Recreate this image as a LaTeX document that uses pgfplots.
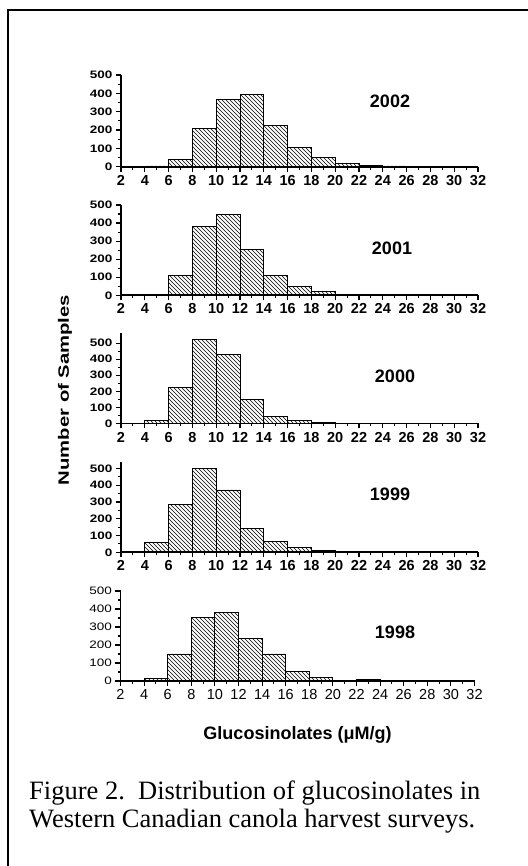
\documentclass[border=0pt]{standalone}
\usepackage{pgfplots}
\pgfplotsset{compat=1.18}
\usepackage{pgfplotstable}
\usetikzlibrary{patterns}
\usepackage{fontspec}
\setmainfont{Liberation Sans}
\newfontfamily\capfont{Liberation Serif}

% coarser back-slash hatching than the stock north west lines
\pgfdeclarepatternformonly{hatchnw}{\pgfqpoint{-1pt}{-1pt}}{\pgfqpoint{5pt}{5pt}}{\pgfqpoint{4pt}{4pt}}{
  \pgfsetlinewidth{0.65pt}
  \pgfpathmoveto{\pgfqpoint{0pt}{4pt}}
  \pgfpathlineto{\pgfqpoint{4.1pt}{-0.1pt}}
  \pgfusepath{stroke}}

% counts per 2 uM/g bin, bin given by its lower edge (last row closes the 30-32 bin)
\pgfplotstableread{
bin y2002 y2001 y2000 y1999 y1998
2   0   0   0   0   0
4   4   4   17  58  15
6   40  112 225 283 150
8   207 380 521 500 352
10  368 450 427 372 381
12  395 255 152 142 237
14  226 112 43  66  150
16  105 48  17  28  52
18  52  20  6   12  20
20  18  4   3   4   5
22  9   2   2   1   9
24  4   1   1   0   3
26  2   1   0   0   2
28  1   1   0   0   1
30  1   1   0   0   2
32  0   0   0   0   0
}\hist

\pgfplotsset{
  panel/.style={
    scale only axis, width=357pt,
    xmin=2, xmax=32, ymin=0,
    axis x line=bottom, axis y line=left,
    axis line style={-, line width=1.7pt},
    xtick={2,4,...,32}, ytick={0,100,...,500},
    minor x tick num=1, minor y tick num=1,
    tick align=outside, major tick length=5pt, minor tick length=3pt,
    tick style={black, line width=1.1pt},
    /pgf/number format/assume math mode=true,
    xticklabel style={font=\fontsize{14.5}{14.5}\selectfont\bfseries},
    yticklabel style={font=\fontsize{13.5}{13.5}\selectfont\bfseries},
    yticklabel={\scalebox{1}[0.8]{\pgfmathprintnumber{\tick}}},
  },
  bars/.style={ybar interval, draw=black, line width=0.9pt, pattern=hatchnw},
}

\begin{document}
\begin{tikzpicture}
\useasboundingbox (0,0) rectangle (527pt,866pt);
\draw[line width=2pt] (8.3pt,-1pt) -- (8.3pt,856pt) -- (528pt,856pt);

\begin{axis}[panel, height=91.7pt, ymax=500, at={(121pt,699.3pt)}, anchor=south west]
\addplot[bars] table[x=bin, y=y2002] {\hist};
\end{axis}
\begin{axis}[panel, height=90.3pt, ymax=500, at={(121pt,570.7pt)}, anchor=south west]
\addplot[bars] table[x=bin, y=y2001] {\hist};
\end{axis}
\begin{axis}[panel, height=90pt, ymax=560, at={(121pt,442.5pt)}, anchor=south west]
\addplot[bars] table[x=bin, y=y2000] {\hist};
\end{axis}
\begin{axis}[panel, height=90.5pt, ymax=540, at={(121pt,313.7pt)}, anchor=south west]
\addplot[bars] table[x=bin, y=y1999] {\hist};
\end{axis}
\begin{axis}[panel, width=354pt, height=90pt, ymax=500, at={(120.5pt,185pt)}, anchor=south west,
  xticklabel style={font=\fontsize{14.5}{14.5}\selectfont},
  yticklabel style={font=\fontsize{13.5}{13.5}\selectfont}]
\addplot[bars] table[x=bin, y=y1998] {\hist};
\end{axis}

\begin{scope}[every node/.style={font=\fontsize{18}{18}\selectfont\bfseries}]
\node at (390pt,765pt) {2002};
\node at (392pt,618pt) {2001};
\node at (395pt,490pt) {2000};
\node at (390pt,372pt) {1999};
\node at (395pt,234pt) {1998};
\node at (297.5pt,131pt) {Glucosinolates (μM/g)};
\end{scope}
\node[rotate=90, font=\fontsize{15}{15}\selectfont\bfseries] at (65pt,476pt)
  {\scalebox{1.35}[1]{Number of Samples}};

\node[anchor=base west, inner sep=0pt, font=\capfont\fontsize{26.5}{26.5}\selectfont] at (29pt,66pt)
  {Figure 2.\ \ Distribution of glucosinolates in};
\node[anchor=base west, inner sep=0pt, font=\capfont\fontsize{26.5}{26.5}\selectfont] at (29pt,38pt)
  {Western Canadian canola harvest surveys.};
\end{tikzpicture}
\end{document}
